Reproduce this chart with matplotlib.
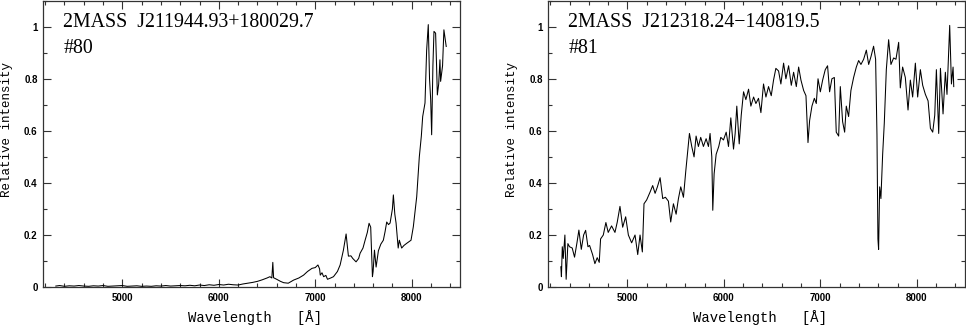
import numpy as np
import matplotlib.pyplot as plt
from matplotlib.ticker import MultipleLocator, FuncFormatter

# #80 : 2MASS J211944.93+180029.7
wl_80 = [4310, 4350, 4400, 4450, 4500, 4550, 4600, 4650, 4700, 4750, 4800, 4850, 4900,
         4950, 5000, 5050, 5100, 5150, 5200, 5250, 5300, 5350, 5400, 5450, 5500, 5550,
         5600, 5650, 5700, 5750, 5800, 5850, 5900, 5950, 6000, 6050, 6100, 6150, 6200,
         6250, 6300, 6350, 6400, 6450, 6500, 6530, 6550, 6560, 6568, 6600, 6640, 6672,
         6720, 6776, 6830, 6879, 6920, 6966, 7000, 7028, 7045, 7052, 7070, 7087, 7110,
         7127, 7160, 7189, 7230, 7258, 7292, 7320, 7335, 7344, 7370, 7389, 7423, 7450,
         7465, 7495, 7517, 7540, 7558, 7575, 7593, 7600, 7614, 7631, 7655, 7680, 7706,
         7724, 7741, 7760, 7776, 7800, 7810, 7825, 7838, 7860, 7872, 7896, 7920, 7948,
         7993, 8017, 8052, 8079, 8100, 8114, 8138, 8155, 8172, 8185, 8197, 8207, 8220,
         8231, 8248, 8258, 8266, 8280, 8293, 8300, 8320, 8334, 8358]
fl_80 = [0.004, 0.006, 0.003, 0.005, 0.004, 0.006, 0.004, 0.003, 0.005, 0.004, 0.006, 0.003, 0.004,
         0.005, 0.006, 0.003, 0.004, 0.005, 0.003, 0.004, 0.003, 0.005, 0.004, 0.006, 0.004, 0.005,
         0.006, 0.005, 0.007, 0.005, 0.008, 0.006, 0.009, 0.007, 0.010, 0.008, 0.011, 0.009, 0.008,
         0.012, 0.015, 0.018, 0.022, 0.028, 0.035, 0.040, 0.035, 0.095, 0.036, 0.030, 0.022, 0.017,
         0.015, 0.027, 0.035, 0.046, 0.060, 0.072, 0.075, 0.085, 0.070, 0.046, 0.055, 0.040, 0.045,
         0.030, 0.035, 0.040, 0.060, 0.085, 0.142, 0.204, 0.150, 0.119, 0.120, 0.110, 0.097, 0.110,
         0.130, 0.150, 0.180, 0.210, 0.245, 0.230, 0.040, 0.060, 0.142, 0.077, 0.140, 0.165, 0.180,
         0.213, 0.250, 0.240, 0.246, 0.300, 0.354, 0.280, 0.246, 0.150, 0.180, 0.150, 0.160, 0.168,
         0.180, 0.232, 0.347, 0.500, 0.580, 0.655, 0.707, 0.910, 1.008, 0.800, 0.720, 0.585, 0.850,
         0.982, 0.975, 0.850, 0.738, 0.780, 0.873, 0.790, 0.850, 0.988, 0.924]

# #81 : 2MASS J212318.24-140819.5
wl_81 = [4310, 4316, 4325, 4335, 4352, 4365, 4383, 4400, 4428, 4452, 4477, 4497, 4522,
         4546, 4567, 4591, 4608, 4639, 4663, 4687, 4708, 4722, 4750, 4777, 4801, 4836,
         4871, 4895, 4923, 4951, 4982, 5010, 5044, 5079, 5107, 5131, 5155, 5172, 5200,
         5235, 5262, 5287, 5311, 5339, 5366, 5394, 5425, 5449, 5477, 5505, 5529, 5553,
         5581, 5605, 5622, 5643, 5667, 5691, 5712, 5736, 5760, 5788, 5816, 5840, 5857,
         5875, 5885, 5899, 5920, 5947, 5968, 5996, 6024, 6048, 6072, 6100, 6117, 6134,
         6159, 6180, 6204, 6228, 6256, 6280, 6308, 6332, 6359, 6384, 6411, 6436, 6463,
         6491, 6515, 6539, 6567, 6591, 6619, 6643, 6671, 6699, 6723, 6751, 6775, 6799,
         6827, 6851, 6872, 6889, 6913, 6938, 6958, 6976, 7000, 7024, 7051, 7075, 7096,
         7120, 7145, 7165, 7190, 7207, 7231, 7252, 7269, 7293, 7317, 7345, 7373, 7397,
         7421, 7449, 7477, 7501, 7525, 7552, 7573, 7587, 7597, 7604, 7615, 7628, 7646,
         7663, 7684, 7708, 7732, 7760, 7784, 7812, 7829, 7853, 7881, 7909, 7933, 7957,
         7985, 8009, 8037, 8061, 8089, 8117, 8141, 8165, 8186, 8203, 8227, 8245, 8272,
         8296, 8313, 8341, 8359, 8376, 8383]
fl_81 = [0.078, 0.040, 0.155, 0.110, 0.200, 0.030, 0.167, 0.155, 0.150, 0.115, 0.170, 0.219, 0.145,
         0.200, 0.218, 0.155, 0.160, 0.125, 0.090, 0.113, 0.095, 0.185, 0.200, 0.248, 0.210, 0.235,
         0.210, 0.250, 0.310, 0.230, 0.270, 0.200, 0.170, 0.200, 0.125, 0.200, 0.135, 0.320, 0.335,
         0.365, 0.390, 0.360, 0.385, 0.420, 0.340, 0.345, 0.330, 0.250, 0.320, 0.280, 0.340, 0.385,
         0.345, 0.445, 0.510, 0.590, 0.540, 0.500, 0.580, 0.540, 0.575, 0.540, 0.570, 0.540, 0.590,
         0.500, 0.295, 0.435, 0.510, 0.540, 0.575, 0.565, 0.595, 0.540, 0.650, 0.530, 0.590, 0.695,
         0.550, 0.660, 0.750, 0.720, 0.760, 0.695, 0.730, 0.705, 0.725, 0.670, 0.780, 0.730, 0.770,
         0.735, 0.795, 0.840, 0.830, 0.780, 0.860, 0.800, 0.850, 0.775, 0.825, 0.770, 0.845, 0.795,
         0.755, 0.735, 0.555, 0.640, 0.695, 0.725, 0.705, 0.800, 0.750, 0.795, 0.835, 0.850, 0.750,
         0.800, 0.805, 0.595, 0.580, 0.770, 0.635, 0.595, 0.695, 0.655, 0.755, 0.805, 0.845, 0.870,
         0.855, 0.875, 0.910, 0.855, 0.885, 0.925, 0.875, 0.585, 0.185, 0.145, 0.385, 0.340, 0.510,
         0.630, 0.835, 0.950, 0.855, 0.880, 0.875, 0.940, 0.765, 0.845, 0.805, 0.680, 0.795, 0.730,
         0.860, 0.730, 0.835, 0.775, 0.740, 0.715, 0.610, 0.595, 0.660, 0.835, 0.590, 0.840, 0.665,
         0.825, 0.740, 1.005, 0.780, 0.845, 0.770]

names = ["2MASS  J211944.93+180029.7", "2MASS  J212318.24\u2212140819.5"]
labels = ["#80", "#81"]

fig = plt.figure(figsize=(9.66, 3.27), dpi=100)
ax1 = fig.add_axes([0.0448, 0.122, 0.4313, 0.876])
ax2 = fig.add_axes([0.5676, 0.122, 0.4314, 0.876])

for ax, wl, fl, name, lab in [(ax1, wl_80, fl_80, names[0], labels[0]),
                              (ax2, wl_81, fl_81, names[1], labels[1])]:
    ax.plot(wl, fl, color="black", lw=0.75)
    ax.set_xlim(4180, 8500)
    ax.set_ylim(0, 1.1)
    ax.xaxis.set_major_locator(MultipleLocator(1000))
    ax.xaxis.set_minor_locator(MultipleLocator(200))
    ax.yaxis.set_major_locator(MultipleLocator(0.2))
    ax.yaxis.set_minor_locator(MultipleLocator(0.1))
    ax.yaxis.set_major_formatter(FuncFormatter(lambda v, p: "%g" % round(v, 2)))
    ax.tick_params(which="both", direction="in", top=True, right=True, color="#333333")
    ax.tick_params(which="major", length=5.5, width=0.8, pad=4)
    ax.tick_params(which="minor", length=2.8, width=0.8)
    for t in ax.get_xticklabels() + ax.get_yticklabels():
        t.set_fontfamily("Liberation Sans")
        t.set_fontweight("bold")
        t.set_fontsize(7)
    for s in ax.spines.values():
        s.set_linewidth(0.9)
        s.set_color("#333333")
    ax.set_xlabel("Wavelength   [\u00c5]", family="Liberation Mono", fontsize=10)
    ax.set_ylabel("Relative intensity", family="Liberation Mono", fontsize=9)
    ax.xaxis.set_label_coords(0.508, -0.08)
    ax.yaxis.set_label_coords(-0.072, 0.55)
    ax.text(0.048, 0.923, name, transform=ax.transAxes, family="Liberation Serif",
            fontsize=14.3, va="center", ha="left")
    ax.text(0.048, 0.833, lab, transform=ax.transAxes, family="Liberation Serif",
            fontsize=14.3, va="center", ha="left")

fig.savefig("out.png", dpi=100)
